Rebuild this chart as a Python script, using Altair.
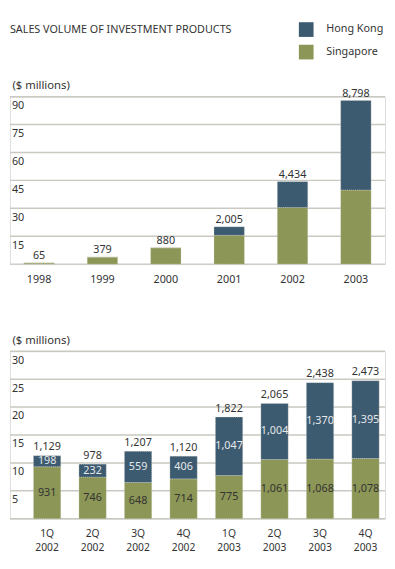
import altair as alt
import pandas as pd

# ---------------- data ----------------
chart_title = ["SALES VOLUME OF INVESTMENT PRODUCTS"]

years = ["1998", "1999", "2000", "2001", "2002", "2003"]
year_singapore = [65, 379, 880, 1550, 3039, 3982]
year_hongkong = [0, 0, 0, 455, 1395, 4816]
year_total = [65, 379, 880, 2005, 4434, 8798]

quarters = ["1Q 2002", "2Q 2002", "3Q 2002", "4Q 2002",
            "1Q 2003", "2Q 2003", "3Q 2003", "4Q 2003"]
q_singapore = [931, 746, 648, 714, 775, 1061, 1068, 1078]
q_hongkong = [198, 232, 559, 406, 1047, 1004, 1370, 1395]
q_total = [1129, 978, 1207, 1120, 1822, 2065, 2438, 2473]

series = ["Hong Kong", "Singapore"]
series_colors = ["#3c5a70", "#8c9656"]

top_ticks = [0, 15, 30, 45, 60, 75, 90]
bottom_ticks = [0, 5, 10, 15, 20, 25, 30]

TXT = "#333333"
GRID = "#c9c9c2"
FONT = "Noto Sans"
PLOT_W = 383
PLOT_H = 171


def long_df(cats, sg, hk):
    rows = []
    for c, s, h in zip(cats, sg, hk):
        rows.append({"cat": c, "market": "Singapore", "value": s, "ord": 0})
        rows.append({"cat": c, "market": "Hong Kong", "value": h, "ord": 1})
    return pd.DataFrame(rows)


def wide_df(cats, sg, hk, tot):
    return pd.DataFrame({"cat": cats, "sg": sg, "hk": hk, "total": tot})


Y_AXIS = alt.Axis(grid=False, labels=False, domain=False, ticks=False,
                  title="($ millions)", titleAngle=0, titleAlign="left",
                  titleBaseline="middle", titleX=2, titleY=-11.3,
                  titleFontSize=11.5, titleFontWeight="normal", titleColor=TXT)


def y_enc(field, domain, stack=None):
    kw = {}
    if stack is not None:
        kw["stack"] = stack
    return alt.Y(field, scale=alt.Scale(domain=domain, nice=False), axis=Y_AXIS, **kw)


def grid_layers(ticks, domain):
    df = pd.DataFrame({"tick": ticks})
    rules = alt.Chart(df).mark_rule(color=GRID, strokeWidth=1.5).encode(
        y=y_enc("tick:Q", domain), x=alt.value(0), x2=alt.value(PLOT_W))
    labels = alt.Chart(df).transform_filter("datum.tick > 0").mark_text(
        align="left", baseline="middle", dy=9.6, fontSize=11, color=TXT, font=FONT
    ).encode(y=y_enc("tick:Q", domain), x=alt.value(2), text="tick:Q")
    return rules, labels


color_enc = alt.Color("market:N",
                      scale=alt.Scale(domain=series, range=series_colors),
                      legend=alt.Legend(title=None, orient="none", legendX=295, legendY=-76,
                                        symbolType="square", symbolSize=225,
                                        symbolStrokeWidth=0, labelFontSize=11,
                                        labelColor=TXT, labelOffset=13, rowPadding=8,
                                        padding=0, labelFont=FONT))

# ---------------- top panel ----------------
TOP_DOM = [0, 90]
top_x = alt.X("cat:N", sort=years, title=None,
              scale=alt.Scale(paddingInner=0.52, paddingOuter=0.22),
              axis=alt.Axis(labelAngle=0, domain=False, ticks=False, labelPadding=10.2,
                            labelFontSize=11, labelColor=TXT, labelBaseline="top"))

top_rules, top_labels = grid_layers(top_ticks, TOP_DOM)

top_bars = alt.Chart(long_df(years, year_singapore, year_hongkong)).transform_calculate(
    v="datum.value / 100"
).mark_bar(stroke="#d8d8cc", strokeWidth=0.6, strokeDash=[1, 1]).encode(
    x=top_x,
    y=y_enc("v:Q", TOP_DOM, stack="zero"),
    color=color_enc,
    order=alt.Order("ord:Q", sort="ascending"),
)

top_tot = alt.Chart(wide_df(years, year_singapore, year_hongkong, year_total)).transform_calculate(
    t="datum.total / 100"
).mark_text(baseline="bottom", dy=-1.8, fontSize=11, color=TXT, font=FONT).encode(
    x=alt.X("cat:N", sort=years),
    y=y_enc("t:Q", TOP_DOM),
    text=alt.Text("total:Q", format=","),
)

top_title = alt.Chart(pd.DataFrame({"t": chart_title})).mark_text(
    align="left", baseline="middle", fontSize=11, color=TXT, font=FONT
).encode(x=alt.value(0), y=alt.value(-68.1), text="t:N")

top = alt.layer(top_rules, top_bars, top_tot, top_labels, top_title).properties(
    width=PLOT_W, height=PLOT_H)

# ---------------- bottom panel ----------------
BOT_DOM = [0, 30]
bot_x = alt.X("cat:N", sort=quarters, title=None,
              scale=alt.Scale(paddingInner=0.4, paddingOuter=0.323, align=0.8),
              axis=alt.Axis(labelAngle=0, domain=False, ticks=False, labelPadding=10.3,
                            labelFontSize=10.5, labelColor=TXT, labelBaseline="top",
                            labelExpr="split(datum.label, ' ')[0]"))

qw = wide_df(quarters, q_singapore, q_hongkong, q_total)

bot_rules, bot_labels = grid_layers(bottom_ticks, BOT_DOM)

bot_bars = alt.Chart(long_df(quarters, q_singapore, q_hongkong)).transform_calculate(
    v="datum.value / 100"
).mark_bar(stroke="#d8d8cc", strokeWidth=0.6, strokeDash=[1, 1]).encode(
    x=bot_x,
    y=y_enc("v:Q", BOT_DOM, stack="zero"),
    color=alt.Color("market:N", scale=alt.Scale(domain=series, range=series_colors),
                    legend=None),
    order=alt.Order("ord:Q", sort="ascending"),
)

bot_tot = alt.Chart(qw).transform_calculate(
    t="datum.total / 100"
).mark_text(baseline="bottom", dy=-3.5, fontSize=11, color=TXT, font=FONT).encode(
    x=alt.X("cat:N", sort=quarters),
    y=y_enc("t:Q", BOT_DOM),
    text=alt.Text("total:Q", format=","),
)

bot_sg = alt.Chart(qw).transform_calculate(
    m="datum.sg / 200"
).mark_text(baseline="middle", fontSize=11, color=TXT, font=FONT).encode(
    x=alt.X("cat:N", sort=quarters),
    y=y_enc("m:Q", BOT_DOM),
    text=alt.Text("sg:Q", format=","),
)

bot_hk = alt.Chart(qw).transform_calculate(
    m="(datum.sg + datum.hk / 2) / 100"
).mark_text(baseline="middle", fontSize=11, color="#e6e8ea", font=FONT).encode(
    x=alt.X("cat:N", sort=quarters),
    y=y_enc("m:Q", BOT_DOM),
    text=alt.Text("hk:Q", format=","),
)

# second line of the quarter labels (the year)
bot_year = alt.Chart(qw).transform_calculate(
    yr="split(datum.cat, ' ')[1]"
).mark_text(baseline="top", fontSize=10.5, color=TXT, font=FONT).encode(
    x=alt.X("cat:N", sort=quarters),
    y=alt.value(PLOT_H + 24.6),
    text="yr:N",
)

bottom = alt.layer(bot_rules, bot_bars, bot_tot, bot_sg, bot_hk, bot_labels, bot_year).properties(
    width=PLOT_W, height=PLOT_H)

chart = alt.vconcat(top, bottom, spacing=89, bounds="flush").properties(
    padding={"left": 0, "top": 8.7, "right": 0, "bottom": 0}
).configure_view(stroke=None).configure(font=FONT)

chart.save("out.html", embed_options={"renderer": "svg", "actions": False})
